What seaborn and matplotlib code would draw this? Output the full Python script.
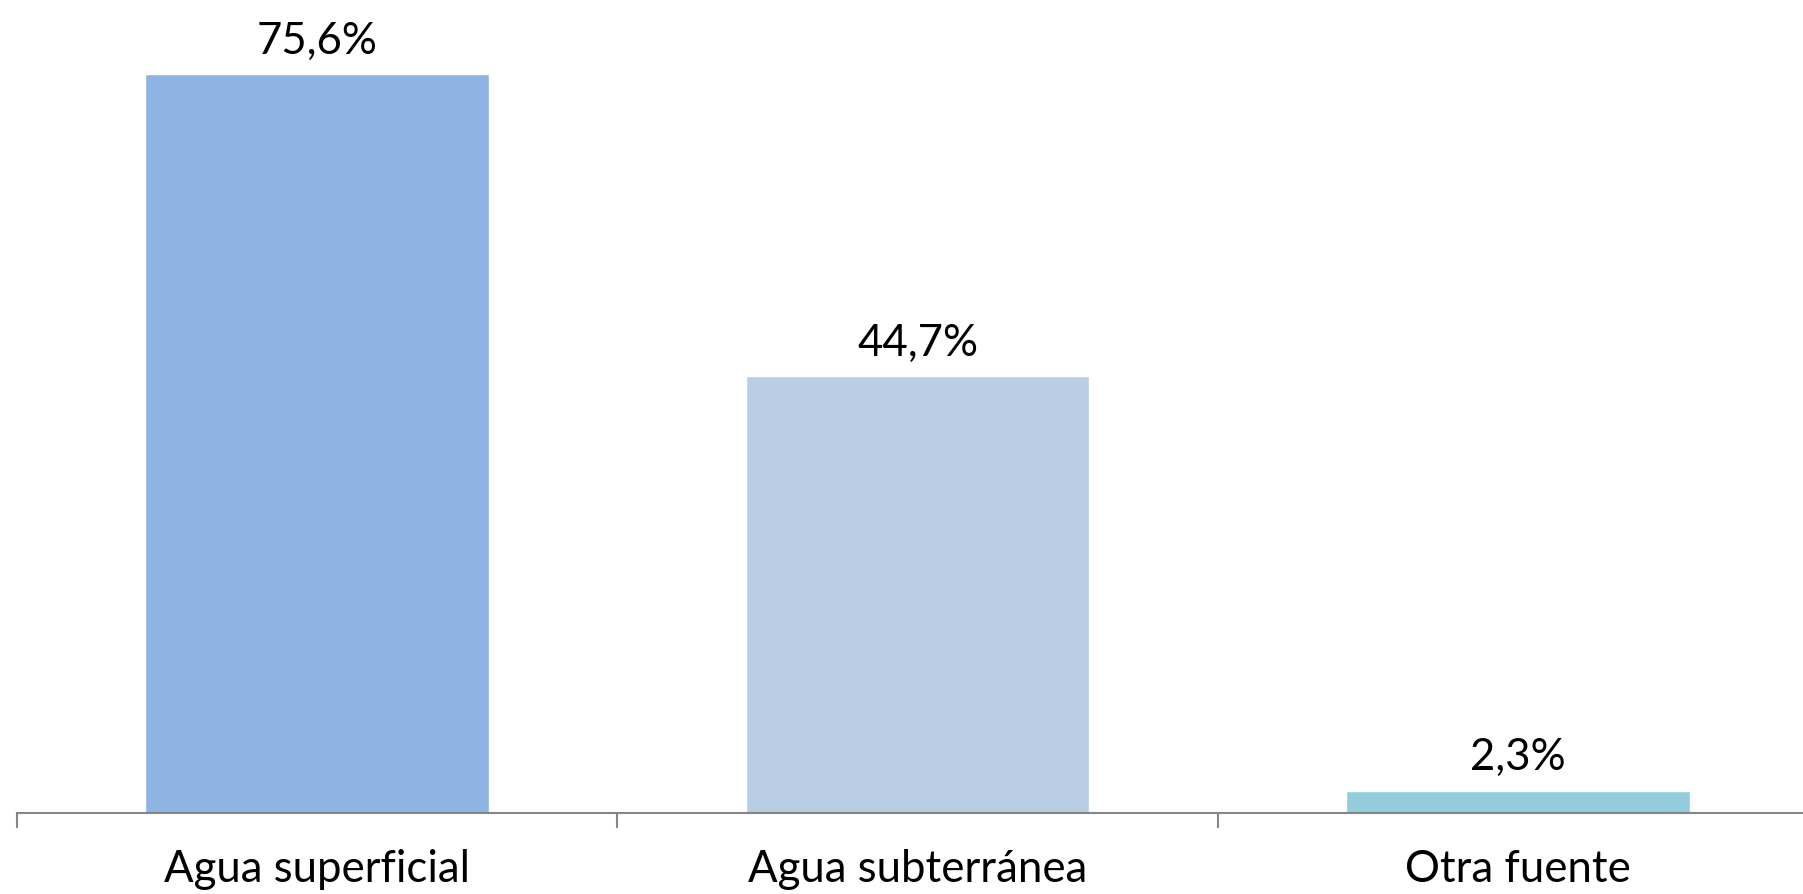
import matplotlib.pyplot as plt
import matplotlib.ticker as ticker
import pandas as pd
import seaborn as sns

categories = ["Agua superficial", "Agua subterránea", "Otra fuente"]
values = [75.6, 44.7, 2.3]
value_labels = ["75,6%", "44,7%", "2,3%"]
bar_colors = ["#8EB4E3", "#B9CDE5", "#93CDDD"]

df = pd.DataFrame({"fuente": categories, "valor": values})

sns.set_theme(style="white")
plt.rcParams["font.family"] = ["Lato", "DejaVu Sans"]

fig = plt.figure(figsize=(18.03, 8.94), dpi=100)
ax = fig.add_axes([17 / 1803, 81 / 894, 1801 / 1803, 813 / 894])

sns.barplot(
    data=df, x="fuente", y="valor", hue="fuente",
    palette=bar_colors, width=0.572, dodge=False, legend=False,
    saturation=1, ax=ax,
)

ax.set_xlim(-0.5, 2.5)
ax.set_ylim(0, 83.2)

for container, label in zip(ax.containers, value_labels):
    ax.bar_label(container, labels=[label], padding=9, fontsize=31.5, color="black")

# spines: only bottom axis line
for side in ["top", "right", "left"]:
    ax.spines[side].set_visible(False)
ax.spines["bottom"].set_color("#868686")
ax.spines["bottom"].set_linewidth(1.5)

ax.set_yticks([])
ax.set_xlabel("")
ax.set_ylabel("")

# category labels at centres, tick marks at boundaries
ax.xaxis.set_minor_locator(ticker.FixedLocator([-0.5, 0.5, 1.5, 2.5]))
ax.tick_params(axis="x", which="major", length=0, pad=26, labelsize=31.5, labelcolor="black")
ax.tick_params(axis="x", which="minor", length=11, width=1.5, color="#868686", direction="out", bottom=True)

fig.savefig("out.png", dpi=100, facecolor="white")
plt.close("all")
